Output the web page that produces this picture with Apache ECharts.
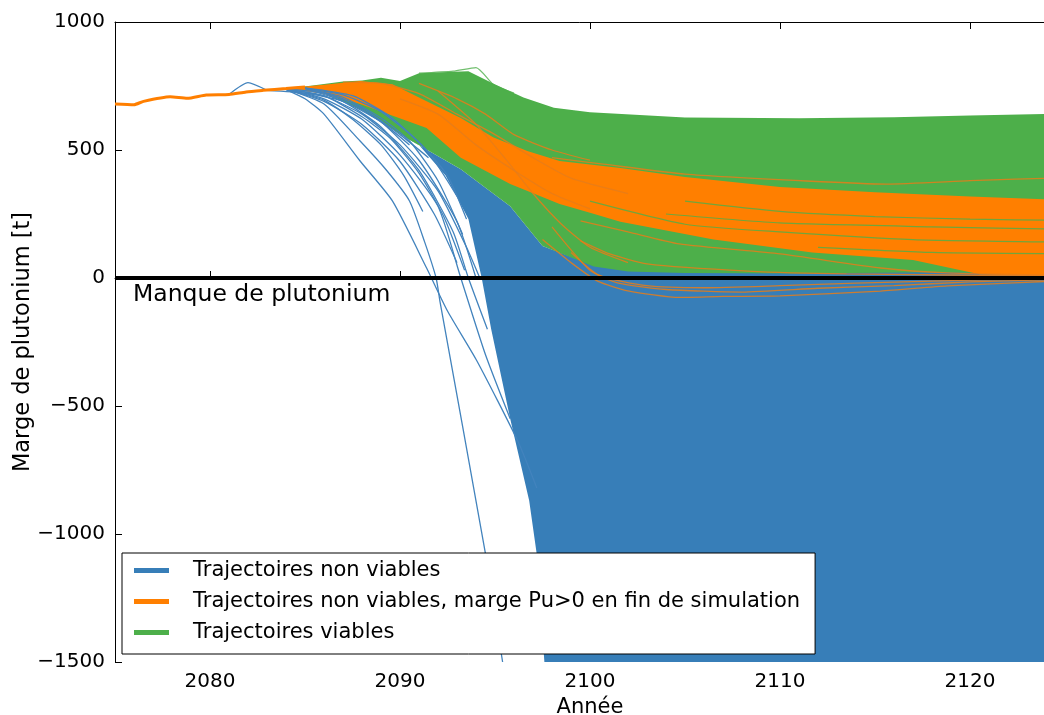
<!DOCTYPE html>
<html>
<head>
<meta charset="utf-8">
<script src="https://cdn.jsdelivr.net/npm/echarts@6/dist/echarts.min.js"></script>
<style>
  html, body { margin: 0; padding: 0; background: #fff; }
  #chart { width: 1044px; height: 715px; }
</style>
</head>
<body>
<div id="chart"></div>
<script>
// ---- données : [année, marge Pu (t)] ----
var xTickYears = [2080, 2090, 2100, 2110, 2120];

// tronc commun (avant divergence)
var trunk = [[2075,680],[2076,677],[2076.5,690],[2077.9,708],[2078.8,702],[2079.8,715],[2081,717],[2081.9,727],[2082.8,733],[2084,740],[2085,746]];
var blueSpike = [[2081,717],[2082,763],[2083,733]];

// enveloppe du faisceau dense non viable (bleu)
var blueMass = [[2084,738],[2086,720],[2088,655],[2090.5,540],[2093.2,425],[2095.8,280],[2097.5,125],[2100.2,50],[2102,40],[2112,35],[2125,30],
  [2125,-1500],[2097.6,-1500],[2097.2,-1080],[2096.8,-870],[2095.8,-550],[2094.8,-200],[2094.3,0],[2093.6,230],[2092.4,400],[2091,520],[2088.5,640],[2086,725]];

// trajectoires bleues isolées (éventail)
var blueFan = [
  [[2084,738],[2086,680],[2087.9,535],[2089.3,420],[2090.5,301],[2091.3,140],[2091.9,0],[2092.1,-90],[2094.5,-1078],[2095.4,-1500]],
  [[2084,736],[2085,700],[2086,640],[2087.9,457],[2089.6,301],[2091.4,39],[2092.5,-129],[2094.05,-324],[2096.2,-637],[2097.2,-820]],
  [[2084,738],[2086,700],[2088,620],[2090,480],[2092,280],[2093.2,0],[2094.5,-300],[2095.8,-550]],
  [[2085,740],[2087,690],[2089,590],[2091,420],[2092.8,180],[2093.6,0],[2094.6,-200]],
  [[2085,742],[2087,700],[2089,610],[2091,460],[2093,220],[2094,0]],
  [[2084,738],[2086,710],[2088,640],[2090,520],[2092,340],[2093.5,120],[2094.2,0]],
  [[2085,742],[2087,715],[2089,650],[2091,530],[2092.5,400],[2093.5,230]],
  [[2084,739],[2086,722],[2088,665],[2090,560],[2091.5,470]],
  [[2083,733],[2085,722],[2087,690],[2089,610],[2090.5,520]],
  [[2084,737],[2086,690],[2088,600],[2090,455],[2091.8,250],[2093,60]],
  [[2084,738],[2086,712],[2088,630],[2089.5,545],[2091,410],[2092.3,240],[2093.4,30]],
  [[2085,741],[2087,706],[2089,625],[2090.5,535],[2092,380],[2093.3,170]],
  [[2084,737],[2086,695],[2087.5,620],[2089,520],[2090.2,400],[2091.2,260]],
  [[2085,743],[2087.5,712],[2089.5,630],[2091.5,490],[2093,320]]
];

// faisceau viable (vert)
var greenMass = [[2084,740],[2085.4,752],[2087,768],[2088,771],[2089,782],[2090,770],[2091,800],[2092.8,806],[2093.6,808],[2094.9,760],[2096.5,705],[2098.1,665],[2100,647],[2105,627],[2111,624],[2116,628],[2120,635],[2125,642],
  [2125,15],[2118,22],[2111,18],[2105,20],[2102,25],[2100.2,45],[2097.5,125],[2095.8,280],[2093.2,425],[2090.5,540],[2088,655],[2086,725]];
var greenLines = [
  [[2091,800],[2092.8,808],[2094,822],[2094.9,757],[2096,722]],
  [[2100,300],[2105,210],[2110,180],[2117,150],[2125,140]],
  [[2105,300],[2110,260],[2115,240],[2120,230],[2125,225]],
  [[2104,250],[2110,215],[2118,200],[2125,190]],
  [[2112,120],[2118,100],[2125,95]]
];

// non viables à marge finale positive (orange)
var orangeMass = [[2084,741],[2086,755],[2087.9,770],[2089.6,757],[2091.4,690],[2093.2,625],[2094.9,550],[2096.7,496],[2098.4,457],[2101.6,430],[2105,395],[2110,355],[2115,335],[2120,318],[2125,305],
  [2125,5],[2120.5,15],[2117,70],[2111.7,100],[2106.5,150],[2101.6,220],[2100,255],[2098.4,289],[2095.8,367],[2093.2,470],[2091.4,586],[2089,650],[2087.9,680],[2086,720]];
var orangeLines = [
  [[2098,470],[2100.7,445],[2105,406],[2111.4,379],[2115.6,367],[2120,380],[2125,392]],
  [[2097.5,150],[2099,60],[2100.4,-12],[2102,-50],[2104.7,-76],[2107,-72],[2110,-70],[2115.3,-51],[2118.8,-31],[2122.3,-19],[2125,-10]],
  [[2098,200],[2100,30],[2101.5,-20],[2104,-45],[2108,-55],[2112,-40],[2116,-30],[2120,-15],[2125,-5]],
  [[2099,100],[2100.5,10],[2103,-30],[2106,-38],[2110,-30],[2114,-20],[2119,-10],[2125,0]],
  [[2099.5,223],[2102,180],[2104.7,133],[2110,94],[2115.3,39],[2118.8,20],[2125,10]],
  [[2099.5,145],[2101,95],[2103,55],[2108.3,27],[2113.5,16],[2125,8]],
  [[2087,765],[2089,760],[2091,720],[2093,640],[2095,560],[2097,470],[2099,390],[2102,330]],
  [[2090,700],[2092,640],[2094,520],[2096,420],[2098,330],[2100,270]],
  [[2091,760],[2093,700],[2094.5,640],[2096,560],[2098,500],[2100,460]],
  [[2092,730],[2094,600],[2095.5,470],[2097,330],[2098.5,210],[2100,120],[2102,60]]
];

var zeroLine = [[2075,0],[2125,0]];

var NAME_BLUE = 'Trajectoires non viables';
var NAME_ORANGE = 'Trajectoires non viables, marge Pu>0 en fin de simulation';
var NAME_GREEN = 'Trajectoires viables';
var C_BLUE = '#377eb8', C_ORANGE = '#ff7f00', C_GREEN = '#4daf4a';

function mass(name, outline, color) {
  return {
    name: name, type: 'custom', coordinateSystem: 'cartesian2d', silent: true,
    data: [outline[0]],
    renderItem: function (params, api) {
      return { type: 'polygon', shape: { points: outline.map(function (p) { return api.coord(p); }) }, style: { fill: color } };
    }
  };
}
function traj(name, pts, color, width) {
  return {
    name: name, type: 'line', data: pts, showSymbol: false, silent: true, smooth: 0.2,
    lineStyle: { color: color, width: width || 1.3 }, itemStyle: { color: color }
  };
}

var series = [];
series.push(mass(NAME_BLUE, blueMass, C_BLUE));
blueFan.forEach(function (l) { series.push(traj(NAME_BLUE, l, '#4283bd')); });
series.push(traj(NAME_BLUE, blueSpike, '#4283bd'));
series.push(mass(NAME_GREEN, greenMass, C_GREEN));
series.push(mass(NAME_ORANGE, orangeMass, C_ORANGE));
orangeLines.forEach(function (l) { series.push(traj(NAME_ORANGE, l, 'rgba(230,125,25,0.85)')); });
greenLines.forEach(function (l) { series.push(traj(NAME_GREEN, l, 'rgba(77,175,74,0.8)', 1.2)); });
series.push(traj(NAME_ORANGE, trunk, C_ORANGE, 3));
series.push({ type: 'line', data: zeroLine, showSymbol: false, silent: true, z: 5, lineStyle: { color: '#000', width: 4 } });

var FONT = 'DejaVu Sans';
var myChart = echarts.init(document.getElementById('chart'));
var option = {
  animation: false,
  backgroundColor: '#fff',
  textStyle: { fontFamily: FONT, color: '#000' },
  grid: { left: 115, top: 22, width: 950, height: 640, outerBoundsMode: 'none', containLabel: false },
  xAxis: [{
    type: 'value', min: 2075, max: 2125,
    name: 'Année', nameLocation: 'middle', nameGap: 35, nameMoveOverlap: false,
    nameTextStyle: { fontSize: 21, fontFamily: FONT, color: '#000' },
    axisLine: { lineStyle: { color: '#000', width: 1 } },
    axisTick: { inside: true, length: 7, customValues: xTickYears, lineStyle: { color: '#000' } },
    axisLabel: { customValues: xTickYears, fontSize: 20, fontFamily: FONT, color: '#000', margin: 10,
      formatter: function (v) { return String(v); } },
    splitLine: { show: false }
  }, {
    type: 'value', min: 2075, max: 2125, position: 'top',
    axisLine: { lineStyle: { color: '#000', width: 1 } },
    axisTick: { inside: true, length: 7, customValues: xTickYears, lineStyle: { color: '#000' } },
    axisLabel: { show: false }, splitLine: { show: false }
  }],
  yAxis: {
    type: 'value', min: -1500, max: 1000, interval: 500,
    name: 'Marge de plutonium [t]', nameLocation: 'middle', nameGap: 80, nameMoveOverlap: false,
    nameTextStyle: { fontSize: 22.5, fontFamily: FONT, color: '#000' },
    axisLine: { show: true, lineStyle: { color: '#000', width: 1 } },
    axisTick: { show: true, inside: true, length: 7, lineStyle: { color: '#000' } },
    axisLabel: {
      fontSize: 20, fontFamily: FONT, color: '#000', margin: 10,
      formatter: function (v) { return v < 0 ? '\u2212' + (-v) : String(v); }
    },
    splitLine: { show: false }
  },
  legend: {
    orient: 'vertical', left: 122, top: 553,
    backgroundColor: '#fff', borderColor: '#000', borderWidth: 1, borderRadius: 0,
    padding: [5, 15, 9, 12], itemGap: 6, itemWidth: 35, itemHeight: 5,
    textStyle: { fontSize: 21, fontFamily: FONT, color: '#000', lineHeight: 25, padding: [0, 0, 0, 19] },
    selectedMode: false,
    data: [
      { name: NAME_BLUE, icon: 'rect', itemStyle: { color: C_BLUE } },
      { name: NAME_ORANGE, icon: 'rect', itemStyle: { color: C_ORANGE } },
      { name: NAME_GREEN, icon: 'rect', itemStyle: { color: C_GREEN } }
    ]
  },
  graphic: [{
    type: 'text', left: 133, top: 283, z: 10,
    style: { text: 'Manque de plutonium', font: '23.5px "DejaVu Sans"', fill: '#000' }
  }],
  series: series
};
myChart.setOption(option);
</script>
</body>
</html>
